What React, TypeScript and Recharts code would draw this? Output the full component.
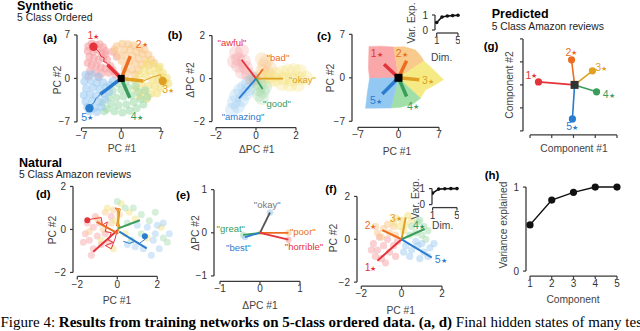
import React from 'react';
import { ScatterChart, Scatter, XAxis, YAxis, ReferenceLine } from 'recharts';

const FONT = '"Liberation Sans", Arial, Helvetica, sans-serif';
const SERIF = '"Liberation Serif", "Times New Roman", serif';
const AX = '#3a3a3a';
const TXT = '#333';

// class colours 1..5 (dark lines / light clouds)
const C = ['#e4333a', '#ec6d1f', '#dfa023', '#3a9d5b', '#2a7ccf'];
const L = ['#f6a2a5', '#f9c88c', '#f4e079', '#a4dcad', '#9fccf2'];
const REGION = ['#f9a7a8', '#f8ca8c', '#f6ea84', '#a0dfa8', '#92c8f1'];

// ---------- (a) synthetic, final hidden states ----------
const aRed = [[-5.8,5.2],[-5.2,5.6],[-4.5,5.4],[-3.8,5.5],[-3.2,5.0],[-5.9,4.4],[-5.0,4.3],[-4.2,4.6],[-3.5,4.1],[-2.8,4.4],[-5.6,3.5],[-4.8,3.3],[-4.0,3.0],[-3.2,3.3],[-2.5,3.0],[-5.9,2.5],[-5.2,2.2],[-4.4,2.0],[-3.6,1.8],[-2.8,1.6],[-1.9,2.0],[-5.5,1.2],[-4.6,0.9],[-3.5,0.8],[-2.2,0.9],[-1.5,1.3],[-5.8,0.3],[-4.0,0.2],[-1.0,0.6],[-2.8,3.9],[-1.5,4.3],[-0.8,3.5]];
const aOrange = [[-0.8,5.2],[0.2,5.6],[1.2,5.5],[2.2,5.3],[3.2,5.0],[4.1,4.6],[0.5,4.6],[1.6,4.7],[2.7,4.3],[3.7,4.0],[4.8,3.8],[-0.5,3.9],[0.8,3.7],[2.0,3.6],[3.0,3.2],[4.2,3.0],[5.3,3.0],[0.1,2.8],[1.4,2.6],[2.5,2.4],[3.6,2.2],[4.8,2.2],[0.6,1.6],[1.9,1.4],[3.0,1.3],[5.8,2.5],[-1.2,4.6],[1.0,0.8],[2.4,0.6]];
const aYellow = [[4.5,2.6],[5.6,2.2],[6.5,1.6],[7.3,0.9],[4.0,1.6],[5.0,1.2],[6.0,0.8],[7.0,0.3],[8.0,0.1],[3.2,0.6],[4.4,0.4],[5.5,-0.2],[6.6,-0.3],[7.6,-0.6],[3.6,-0.9],[4.8,-1.2],[5.9,-1.3],[7.0,-1.5],[2.6,-1.6],[4.0,-2.1],[5.2,-2.5],[6.3,-2.4],[3.2,-2.9],[4.5,-3.3],[2.3,-0.3],[6.8,1.9],[8.3,-0.8]];
const aGreen = [[-2.5,-4.9],[-1.2,-5.3],[0.2,-5.5],[1.5,-5.2],[2.7,-4.8],[3.9,-4.2],[-3.3,-3.9],[-1.8,-4.1],[-0.5,-4.3],[0.9,-4.2],[2.2,-3.8],[3.4,-3.3],[4.6,-3.0],[-2.2,-3.0],[-0.9,-3.1],[0.4,-2.9],[1.8,-2.7],[3.0,-2.2],[-1.5,-2.0],[0.0,-1.8],[1.2,-1.5],[2.5,-1.2],[-0.6,-0.8],[0.8,-0.5],[4.2,-1.9],[-3.0,-5.3]];
const aBlue = [[-6.3,0.6],[-5.2,0.7],[-4.0,0.3],[-6.5,-0.5],[-5.4,-0.4],[-4.3,-0.7],[-3.2,-0.6],[-6.2,-1.6],[-5.0,-1.5],[-3.8,-1.7],[-2.7,-1.4],[-6.6,-2.7],[-5.5,-2.6],[-4.4,-2.8],[-3.2,-2.5],[-2.1,-2.2],[-6.3,-3.7],[-5.1,-3.6],[-3.9,-3.8],[-2.8,-3.4],[-6.0,-4.6],[-4.7,-4.7],[-3.5,-4.6],[-5.6,-5.3],[-4.3,-5.4],[-2.0,-1.0],[-1.5,-0.4]];
const aTrajRed = [[-2.4,2.2],[-2.6,2.6],[-3.1,2.7],[-3.0,3.3],[-3.6,3.6],[-3.9,4.3],[-4.9,5.1]];
const aTrajBlue = [[-3.7,-2.55],[-4.2,-3.0],[-4.5,-3.3],[-4.8,-3.9],[-5.3,-4.3],[-5.6,-4.8]];
const aTrajGold = [[3.9,-0.4],[5.5,0.2],[6.9,0.6],[7.3,-0.4]];
const aEnds = [[-2.4,2.2],[1.6,3.6],[3.9,-0.4],[1.5,-3.1],[-3.7,-2.55]];
const aFixed = [[-4.9,5.1,0],[7.3,-0.4,2],[-5.6,-4.8,4]];
const aStars = [[-4.92,6.84],[3.6,5.5],[8.28,-1.85],[2.72,-6.15],[-5.98,-6.25]];

// ---------- (b) synthetic, word deltas ----------
const bRed = [[-1.0,1.2],[-0.7,1.3],[-0.9,0.9],[-0.6,0.8],[-0.9,0.6],[-0.5,0.5],[-0.7,0.3],[-0.4,0.2],[-1.1,0.8]];
const bOrange = [[0.3,0.9],[0.5,0.8],[0.4,0.6],[0.7,0.5],[0.3,0.35],[0.6,0.25],[0.2,0.1]];
const bYellow = [[0.4,0.05],[0.7,0.1],[1.0,0.2],[1.3,0.3],[1.6,0.35],[1.9,0.4],[2.2,0.35],[1.0,-0.05],[1.4,0.0],[1.8,-0.05],[2.2,0.0],[2.5,0.05],[1.3,-0.25],[1.7,-0.3],[2.1,-0.3],[0.7,-0.1]];
const bGreen = [[0.0,-0.15],[0.2,-0.3],[0.1,-0.5],[0.35,-0.6],[0.15,-0.75],[0.3,-0.9],[0.45,-0.4]];
const bBlue = [[-0.4,-0.2],[-0.6,-0.4],[-0.8,-0.55],[-0.5,-0.7],[-1.0,-0.8],[-0.7,-1.0],[-1.1,-1.1],[-0.9,-1.3],[-1.2,-1.45],[-0.4,-0.5]];
const bGray = [[-0.15,0.05],[-0.05,-0.05],[-0.25,-0.05]];
const bEnds = [[-0.72,0.88],[0.35,0.45],[1.35,0.0],[0.33,-0.48],[-0.85,-0.92]];
const bWords = ['awful', 'bad', 'okay', 'good', 'amazing'];
const bWordPos = [[-1.2,1.67],[1.1,0.98],[2.32,-0.05],[1.05,-1.16],[-0.65,-1.77]];

// ---------- (c) synthetic, readout regions ----------
const cRegions = [
  [[0,0],[-5.0,-0.1],[-5.2,1.5],[-5.1,5.05],[-3.0,5.1],[-0.8,4.95],[0,0]],
  [[0,0],[-0.8,4.95],[1.0,5.0],[2.9,4.5],[3.8,3.6],[4.4,2.7],[0,0]],
  [[0,0],[4.4,2.7],[5.5,1.8],[7.8,-0.3],[6.0,-1.3],[4.65,-1.95],[3.8,-3.3],[0,0]],
  [[0,0],[3.8,-3.3],[2.5,-4.2],[0.35,-4.75],[-1.3,-4.85],[0,0]],
  [[0,0],[-1.3,-4.85],[-5.7,-4.9],[-5.4,-2.5],[-5.0,-0.1],[0,0]],
];
const cEnds = [[-2.5,2.2],[1.4,2.75],[3.6,-0.3],[1.4,-3.0],[-2.8,-2.6]];
const cStars = [[-3.77,3.9],[0.55,3.9],[5.1,-0.5],[2.5,-4.6],[-3.9,-3.7]];
const dims = [1, 2, 3, 4, 5];
const cVarExp = [0.5, 0.87, 0.93, 0.96, 0.98];

// ---------- (d) natural, final hidden states ----------
const dRed = [[-1.6,-0.2],[-1.4,-0.5],[-1.2,0.1],[-1.5,0.3],[-1.0,-0.3],[-0.8,-0.7],[-1.2,-0.9],[-0.6,-0.2],[-1.7,-0.6],[-0.9,0.3],[-0.4,-0.6],[-1.3,-1.2],[-0.3,0.6],[-1.1,0.6]];
const dOrange = [[-1.0,0.5],[-0.6,0.8],[-0.3,0.3],[-0.2,0.9],[-0.7,0.0],[0.1,0.7],[-1.4,-0.1]];
const dYellow = [[-0.5,1.0],[0.2,1.2],[0.6,0.8],[-0.1,0.4],[0.9,0.5],[-0.8,-0.5],[0.4,-0.2],[1.5,-0.4],[2.2,0.1],[-0.2,-0.9]];
const dGreen = [[0.0,1.3],[0.4,1.0],[0.8,1.0],[1.2,0.7],[1.6,0.4],[0.5,0.3],[1.9,0.8],[2.3,-0.4],[1.2,-0.2],[0.7,-0.5],[2.5,-0.6]];
const dBlue = [[1.0,0.2],[1.5,0.1],[2.0,0.2],[1.8,-0.5],[2.3,0.3],[0.9,-0.8],[1.3,-0.9],[2.1,-0.9],[1.7,-1.2],[0.5,-0.7],[2.6,-0.2],[1.9,-0.2]];
const dTrajRed = [[-1.5,0.43],[-1.2,0.5],[-0.8,0.55],[-0.75,0.2],[-0.5,0.35],[-0.6,-0.1],[-0.3,-0.15],[-0.45,-0.5],[-0.2,-0.6],[-0.6,-0.75],[-0.3,-0.9],[-0.1,-0.4],[0,0]];
const dTrajOrange = [[-0.05,0.15],[0.15,0.95],[-0.1,1.0],[0.1,0.7],[0.05,0.3],[0.15,0.1]];
const dTrajBlue = [[0.3,-0.55],[0.6,-0.65],[0.9,-0.55],[1.1,-0.65],[1.4,-0.45],[1.38,-0.3]];
const dSegs = [[0.05,0,-1.2,-1.04],[-1.03,0.35,0.05,-0.2],[0.05,0.95,0.05,-0.1],[0.05,0.05,1.13,0.43],[0.1,-0.1,1.47,-0.88]];
const dFixed = [[-1.5,0.43,0],[1.38,-0.32,4]];

// ---------- (e) natural, word deltas ----------
const eWords = ['okay', 'poor', 'horrible', 'great', 'best'];
const eEnds = [[0.25,0.47],[0.71,0.0],[0.71,-0.16],[-0.42,-0.05],[-0.375,-0.1]];
const eWordPos = [[0.18,0.65],[1.07,0.02],[1.1,-0.32],[-0.73,0.11],[-0.54,-0.33]];

// ---------- (f) natural, readout vectors ----------
const fRed = [[-1.4,-0.2],[-1.2,-0.5],[-0.9,-0.3],[-1.3,-0.8],[-0.6,-0.6],[-1.0,-0.9],[-0.4,-0.3],[-0.7,0.0],[-1.1,0.1],[-0.3,-0.8],[-0.8,-1.1],[-1.5,-0.5],[-0.2,-0.1]];
const fOrange = [[-1.2,0.3],[-0.9,0.5],[-0.6,0.3],[-0.4,0.6],[-1.0,0.1],[-0.3,0.2],[-0.7,0.7],[-1.3,0.6]];
const fYellow = [[-0.3,1.0],[0.0,0.9],[0.3,1.1],[-0.1,0.6],[0.2,0.7],[0.5,0.9],[0.1,0.4],[-0.4,0.8]];
const fGreen = [[0.5,0.6],[0.8,0.8],[1.1,0.6],[0.7,0.3],[1.0,0.2],[1.3,0.4],[0.4,0.2],[0.9,0.9],[1.2,0.0]];
const fBlue = [[0.2,-0.3],[0.5,-0.5],[0.8,-0.3],[1.1,-0.6],[1.4,-0.4],[0.4,-0.8],[0.9,-0.9],[1.3,-0.8],[1.6,-0.2],[0.7,-0.1],[1.0,-0.2],[0.1,-0.6]];
const fEnds = [[-1.2,-1.0],[-0.96,0.43],[0.2,1.02],[1.14,0.48],[1.49,-0.85]];
const fStars = [[-1.54,-1.32],[-1.54,0.63],[-0.3,0.99],[0.86,0.63],[1.93,-0.96]];
const fVarExp = [0.72, 0.97, 0.99, 1.0, 1.0];

// ---------- (g) predicted readouts ----------
const gCenter = [0.05, 0];
const gEnds = [[-1.61,0.13],[-0.09,1.09],[0.87,0.61],[1.06,-0.3],[-0.05,-1.48]];
const gStars = [[-1.94,0.43],[-0.1,1.43],[1.27,0.74],[1.62,-0.43],[-0.06,-1.83]];

// ---------- (h) variance explained ----------
const hComponents = [1, 2, 3, 4, 5];
const hVarExp = [0.55, 0.845, 0.937, 1.0, 1.0];

// ---------- helpers ----------
const xy = (a: number[][]) => a.map(([x, y]) => ({ x, y }));
const fmt = (v: number) => (v < 0 ? `\u2212${-v}` : `${v}`);
const none = () => <g />;
const dot = (r: number, fill: string, op = 1) => (p: any) => (
  <circle cx={p.cx} cy={p.cy} r={r} fill={fill} fillOpacity={op} />
);
const square = (s: number, fill: string) => (p: any) => (
  <rect x={p.cx - s / 2} y={p.cy - s / 2} width={s} height={s} fill={fill} />
);
const starShape = (p: any) => (
  <text x={p.cx} y={p.cy} textAnchor="middle" dominantBaseline="central" fontSize={10.5} fill={C[p.payload.i]} fontFamily={FONT}>
    {p.payload.i + 1}
    <tspan fontSize={7.5}>★</tspan>
  </text>
);
const wordShape = (words: string[], colors: string[]) => (p: any) => (
  <text x={p.cx} y={p.cy} textAnchor="middle" dominantBaseline="central" fontSize={9.5} fill={colors[p.payload.i]} fontFamily={FONT}>
    {`"${words[p.payload.i]}"`}
  </text>
);
const indexed = (a: number[][]) => a.map(([x, y], i) => ({ x, y, i }));

type Frame = {
  xv: number[]; xp: number[]; yv: number[]; yp: number[];
  spineX: number; spineY: number; xMax: number; yMax: number;
  xTicks: number[]; yTicks: number[]; labels?: boolean;
};

const YW = 28;
const XH = 18;

function Panel({ f, children }: { f: Frame; children?: React.ReactNode }) {
  const sx = (f.xp[1] - f.xp[0]) / (f.xv[1] - f.xv[0]);
  const sy = (f.yp[1] - f.yp[0]) / (f.yv[1] - f.yv[0]);
  const xMin = f.xv[0] + (f.spineX - f.xp[0]) / sx;
  const yMin = f.yv[0] + (f.spineY - f.yp[0]) / sy;
  const right = f.xp[0] + (f.xMax - f.xv[0]) * sx;
  const top = f.yp[0] + (f.yMax - f.yv[0]) * sy;
  const w = right - f.spineX + YW;
  const h = f.spineY - top + XH;
  const tf = f.labels === false ? () => '' : fmt;
  const tl = { stroke: AX, strokeWidth: 1.2 };
  const tk = { fontSize: 10, fill: TXT };
  return (
    <div style={{ position: 'absolute', left: f.spineX - YW, top }}>
      <ScatterChart width={w} height={h} margin={{ top: 0, right: 0, bottom: 0, left: 0 }}>
        <XAxis type="number" dataKey="x" domain={[xMin, f.xMax]} allowDataOverflow ticks={f.xTicks} interval={0}
          axisLine={false} tickLine={tl} tickSize={3} tickMargin={1} height={XH} tick={tk} tickFormatter={tf} />
        <YAxis type="number" dataKey="y" domain={[yMin, f.yMax]} allowDataOverflow ticks={f.yTicks} interval={0}
          axisLine={false} tickLine={tl} tickSize={3} tickMargin={4} width={YW} tick={tk} tickFormatter={tf} />
        <ReferenceLine segment={[{ x: f.xTicks[0], y: yMin }, { x: f.xTicks[f.xTicks.length - 1], y: yMin }]}
          stroke={AX} strokeWidth={1.3} ifOverflow="visible" />
        <ReferenceLine segment={[{ x: xMin, y: f.yTicks[0] }, { x: xMin, y: f.yTicks[f.yTicks.length - 1] }]}
          stroke={AX} strokeWidth={1.3} ifOverflow="visible" />
        {children}
      </ScatterChart>
    </div>
  );
}

const T7 = [-7, 0, 7];
const T2 = [-2, 0, 2];
const FA: Frame = { xv: [-7, 7], xp: [81.5, 161], yv: [-7, 7], yp: [122, 35], spineX: 77, spineY: 128, xMax: 9.8, yMax: 8.6, xTicks: T7, yTicks: T7 };
const FB: Frame = { xv: [-2, 2], xp: [216, 296], yv: [-2, 2], yp: [122, 36], spineX: 212, spineY: 128, xMax: 3.1, yMax: 2.4, xTicks: T2, yTicks: T2 };
const FC: Frame = { xv: [-7, 7], xp: [358, 439], yv: [-7, 7], yp: [121, 34], spineX: 352, spineY: 127, xMax: 8.8, yMax: 8.5, xTicks: T7, yTicks: T7 };
const FCi: Frame = { xv: [1, 5], xp: [436.7, 458], yv: [0, 1], yp: [30, 15], spineX: 435, spineY: 33, xMax: 5.4, yMax: 1.6, xTicks: [1, 5], yTicks: [0, 1] };
const FG: Frame = { xv: [-2, 2], xp: [530, 617], yv: [-2, 2], yp: [131, 39], spineX: 523, spineY: 135, xMax: 2.6, yMax: 2.3, xTicks: [-2, -1, 0, 1, 2], yTicks: [-2, -1, 0, 1, 2], labels: false };
const FH: Frame = { xv: [1, 5], xp: [530, 617], yv: [0, 1], yp: [271, 187], spineX: 526, spineY: 276, xMax: 5.3, yMax: 1.12, xTicks: hComponents, yTicks: [0, 1] };
const FD: Frame = { xv: [-2, 2], xp: [77.3, 157.3], yv: [-2, 2], yp: [272.7, 186.7], spineX: 73, spineY: 276.7, xMax: 2.8, yMax: 2.3, xTicks: T2, yTicks: T2 };
const FE: Frame = { xv: [-1, 1], xp: [220, 300], yv: [-1, 1], yp: [276.3, 190], spineX: 214, spineY: 281.7, xMax: 1.65, yMax: 1.2, xTicks: [-1, 0, 1], yTicks: [-1, 0, 1] };
const FF: Frame = { xv: [-2, 2], xp: [361, 441.7], yv: [-2, 2], yp: [281.7, 196], spineX: 356.7, spineY: 285.7, xMax: 2.4, yMax: 2.3, xTicks: T2, yTicks: T2 };
const FFi: Frame = { xv: [1, 5], xp: [432.3, 456.7], yv: [0, 1], yp: [205, 189], spineX: 431.7, spineY: 208, xMax: 5.4, yMax: 1.6, xTicks: [1, 5], yTicks: [0, 1] };

const spokes = (ends: number[][], width: number, origin = [0, 0]) =>
  ends.map((e, i) => (
    <Scatter key={`sp${i}`} data={[{ x: origin[0], y: origin[1] }, { x: e[0], y: e[1] }]}
      line={{ stroke: C[i], strokeWidth: width }} shape={none} isAnimationActive={false} />
  ));

const clouds = (sets: number[][][], r: number, op: number) =>
  sets.map((s, i) => <Scatter key={`cl${i}`} data={xy(s)} shape={dot(r, L[i], op)} isAnimationActive={false} />);

const trail = (a: number[][], color: string, width: number, key: string) => (
  <Scatter key={key} data={xy(a)} line={{ stroke: color, strokeWidth: width }} shape={none} isAnimationActive={false} />
);

const varInset = (vals: number[]) => (
  <Scatter data={dims.map((d, i) => ({ x: d, y: vals[i] }))} line={{ stroke: '#111', strokeWidth: 1.6 }}
    shape={dot(1.8, '#111')} isAnimationActive={false} />
);

const eColors = ['#555', C[1], C[0], C[3], C[4]];
const eTipColors = [L[4], L[1], L[0], L[3], L[4]];

function Texts() {
  const rot = (x: number, y: number, s: string, size = 10.3) => (
    <text key={s + x} x={x} y={y} transform={`rotate(-90 ${x} ${y})`} textAnchor="middle" dominantBaseline="central" fontSize={size} fill="#444">{s}</text>
  );
  const hor = (x: number, y: number, s: string, size = 10.3) => (
    <text key={s + x + y} x={x} y={y} textAnchor="middle" dominantBaseline="central" fontSize={size} fill="#444">{s}</text>
  );
  const tag = (x: number, y: number, s: string) => (
    <text key={s} x={x} y={y} textAnchor="middle" dominantBaseline="central" fontSize={11.5} fontWeight="bold" fill="#000">{s}</text>
  );
  return (
    <svg width={640} height={331} style={{ position: 'absolute', left: 0, top: 0, pointerEvents: 'none' }} fontFamily={FONT}>
      <text x={17} y={9.5} fontSize={12.5} fontWeight="bold" fill="#000">Synthetic</text>
      <text x={17} y={20.7} fontSize={10.4} fill="#222">5 Class Ordered</text>
      <text x={491.7} y={18.3} fontSize={12.5} fontWeight="bold" fill="#000">Predicted</text>
      <text x={491.7} y={29.7} fontSize={10.3} fill="#222">5 Class Amazon reviews</text>
      <text x={19} y={166.7} fontSize={12.5} fontWeight="bold" fill="#000">Natural</text>
      <text x={19} y={178.3} fontSize={10.3} fill="#222">5 Class Amazon reviews</text>
      {tag(50, 38, '(a)')}
      {tag(175, 35, '(b)')}
      {tag(324, 35.5, '(c)')}
      {tag(491, 46, '(g)')}
      {tag(43.3, 194, '(d)')}
      {tag(183, 194.5, '(e)')}
      {tag(331, 189, '(f)')}
      {tag(492, 175.3, '(h)')}
      {rot(57, 80, 'PC #2')}
      {hor(122, 148.5, 'PC #1')}
      {rot(190, 80, '\u0394PC #2')}
      {hor(256.7, 149, '\u0394PC #1')}
      {rot(330, 78, 'PC #2')}
      {hor(397, 151, 'PC #1')}
      {rot(411.7, 23, 'Var. Exp.')}
      {hor(441.7, 57, 'Dim.')}
      {rot(509, 85, 'Component #2')}
      {hor(574, 148.3, 'Component #1')}
      {rot(52, 230, 'PC #2')}
      {hor(117, 300, 'PC #1')}
      {rot(195, 233, '\u0394PC #2')}
      {hor(260, 305, '\u0394PC #1')}
      {rot(333, 238, 'PC #2')}
      {hor(400.7, 310, 'PC #1')}
      {rot(415, 199, 'Var. Exp.')}
      {hor(442.7, 225, 'Dim.')}
      {rot(503, 225, 'Variance explained')}
      {hor(573, 299, 'Component')}
      <text x={0.5} y={327} fontFamily={SERIF} fontSize={15} fill="#000">
        Figure 4:{' '}
        <tspan fontWeight="bold">Results from training networks on 5-class ordered data.</tspan>{' '}
        <tspan fontWeight="bold">(a, d)</tspan> Final hidden states of many tes
      </text>
    </svg>
  );
}

export default function App() {
  return (
    <div style={{ position: 'absolute', left: 0, top: 0, width: 640, height: 331, overflow: 'hidden', background: '#fff', fontFamily: FONT }}>
      {/* (a) */}
      <Panel f={FA}>
        {clouds([aRed, aOrange, aYellow, aGreen, aBlue], 4, 0.6)}
        {trail(aTrajRed, C[0], 1, 'tr')}
        {trail(aTrajBlue, C[4], 1, 'tb')}
        {trail(aTrajGold, C[2], 1, 'tg')}
        {spokes(aEnds, 3.5)}
        {aFixed.map((p, i) => (
          <Scatter key={`fx${i}`} data={[{ x: p[0], y: p[1] }]} shape={dot(4.2, C[p[2]])} isAnimationActive={false} />
        ))}
        <Scatter data={[{ x: 0, y: 0 }]} shape={square(7, '#000')} isAnimationActive={false} />
        <Scatter data={indexed(aStars)} shape={starShape} isAnimationActive={false} />
      </Panel>

      {/* (b) */}
      <Panel f={FB}>
        {clouds([bRed, bOrange, bYellow, bGreen, bBlue], 7, 0.3)}
        <Scatter data={xy(bGray)} shape={dot(6, '#bbb', 0.4)} isAnimationActive={false} />
        {spokes(bEnds, 1.8)}
        <Scatter data={indexed(bWordPos)} shape={wordShape(bWords, C)} isAnimationActive={false} />
      </Panel>

      {/* (c) */}
      <Panel f={FC}>
        {cRegions.map((r, i) => (
          <Scatter key={`rg${i}`} data={xy(r)} line={{ fill: REGION[i], stroke: REGION[i], strokeWidth: 0.5 }}
            shape={none} isAnimationActive={false} />
        ))}
        {spokes(cEnds, 3.5)}
        <Scatter data={[{ x: 0, y: 0 }]} shape={square(8, '#000')} isAnimationActive={false} />
        <Scatter data={indexed(cStars)} shape={starShape} isAnimationActive={false} />
      </Panel>
      <Panel f={FCi}>{varInset(cVarExp)}</Panel>

      {/* (g) */}
      <Panel f={FG}>
        {spokes(gEnds, 1.6, gCenter)}
        {gEnds.map((e, i) => (
          <Scatter key={`ge${i}`} data={[{ x: e[0], y: e[1] }]} shape={dot(3.6, C[i])} isAnimationActive={false} />
        ))}
        <Scatter data={[{ x: gCenter[0], y: gCenter[1] }]} shape={square(8, '#333')} isAnimationActive={false} />
        <Scatter data={indexed(gStars)} shape={starShape} isAnimationActive={false} />
      </Panel>

      {/* (h) */}
      <Panel f={FH}>
        <Scatter data={hComponents.map((c, i) => ({ x: c, y: hVarExp[i] }))} line={{ stroke: '#111', strokeWidth: 1.5 }}
          shape={dot(3.6, '#111')} isAnimationActive={false} />
      </Panel>

      {/* (d) */}
      <Panel f={FD}>
        {clouds([dRed, dOrange, dYellow, dGreen, dBlue], 3.5, 0.45)}
        {trail(dTrajRed, C[0], 1, 'dr')}
        {trail(dTrajOrange, C[1], 1, 'do')}
        {trail(dTrajBlue, C[4], 1, 'db')}
        {dSegs.map((s, i) => (
          <Scatter key={`ds${i}`} data={[{ x: s[0], y: s[1] }, { x: s[2], y: s[3] }]}
            line={{ stroke: C[i], strokeWidth: 2 }} shape={none} isAnimationActive={false} />
        ))}
        {dFixed.map((p, i) => (
          <Scatter key={`df${i}`} data={[{ x: p[0], y: p[1] }]} shape={dot(3, C[p[2]])} isAnimationActive={false} />
        ))}
      </Panel>

      {/* (e) */}
      <Panel f={FE}>
        {eEnds.map((e, i) => (
          <Scatter key={`et${i}`} data={[{ x: e[0], y: e[1] }]} shape={dot(3.2, eTipColors[i], 0.6)} isAnimationActive={false} />
        ))}
        <Scatter data={[{ x: 0, y: 0 }]} shape={dot(2.5, L[2], 0.8)} isAnimationActive={false} />
        {eEnds.map((e, i) => (
          <Scatter key={`el${i}`} data={[{ x: 0, y: 0 }, { x: e[0], y: e[1] }]}
            line={{ stroke: eColors[i], strokeWidth: 1.8 }} shape={none} isAnimationActive={false} />
        ))}
        <Scatter data={indexed(eWordPos)} shape={wordShape(eWords, eColors.map((c, i) => (i === 0 ? '#777' : c)))} isAnimationActive={false} />
      </Panel>

      {/* (f) */}
      <Panel f={FF}>
        {clouds([fRed, fOrange, fYellow, fGreen, fBlue], 3.6, 0.5)}
        {spokes(fEnds, 2)}
        <Scatter data={indexed(fStars)} shape={starShape} isAnimationActive={false} />
      </Panel>
      <Panel f={FFi}>{varInset(fVarExp)}</Panel>

      <Texts />
    </div>
  );
}
